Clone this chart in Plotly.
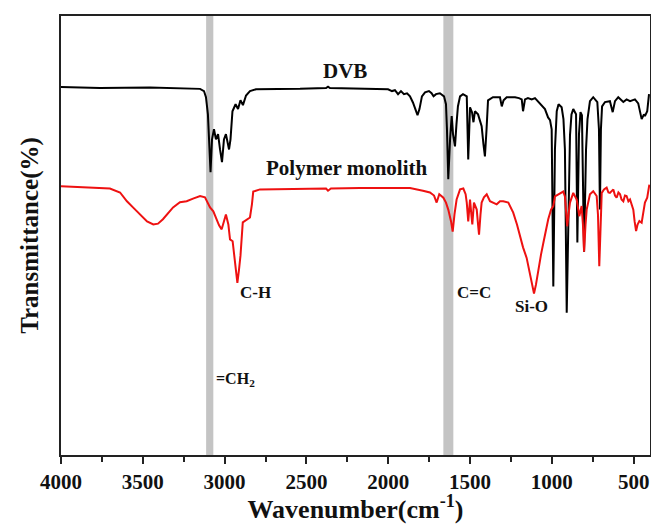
import plotly.graph_objects as go

# ---- data (wavenumber cm-1, transmittance a.u.) ----
dvb_wn = [4000, 3762, 3456, 3150, 3126, 3114, 3102, 3092, 3086, 3077, 3065, 3053, 3040, 3028,
          3016, 3004, 2992, 2973, 2964, 2952, 2933, 2918, 2903, 2888, 2869, 2845, 2808, 2539,
          2380, 2368, 2356, 2001, 1977, 1959, 1940, 1922, 1904, 1885, 1867, 1849, 1833, 1821,
          1809, 1794, 1775, 1751, 1735, 1723, 1708, 1684, 1659, 1647, 1641, 1633, 1622, 1612,
          1604, 1592, 1583, 1574, 1561, 1543, 1520, 1511, 1500, 1488, 1479, 1470, 1451, 1429,
          1418, 1409, 1399, 1390, 1360, 1317, 1306, 1295, 1276, 1225, 1201, 1184, 1176, 1164,
          1146, 1123, 1103, 1085, 1066, 1042, 1023, 1011, 1001, 991, 981, 970, 959, 940, 929,
          920, 909, 898, 889, 880, 869, 852, 844, 834, 825, 816, 803, 791, 782, 767, 747, 722,
          712, 706, 700, 693, 675, 645, 628, 614, 594, 563, 543, 522, 492, 472, 461, 451, 437,
          431, 417, 406]
dvb_t = [83.8, 83.6, 83.7, 83.4, 82.9, 81.5, 77.6, 69.6, 64.4, 71.9, 74.2, 71.9, 73.1, 69.6,
         66.7, 71.9, 73.1, 69.6, 71.9, 78.3, 79.9, 78.8, 80.8, 79.7, 81.9, 82.9, 83.3, 83.4,
         83.6, 83.9, 83.6, 83.3, 82.9, 83.1, 82.2, 82.9, 82.2, 82.4, 81.7, 80.3, 78.3, 77.4,
         78.8, 81.7, 82.6, 82.9, 82.4, 81.7, 82.2, 82.4, 81.7, 79.9, 74.2, 62.8, 71.9, 77.2,
         73.1, 70.3, 75.3, 79.4, 81.7, 82.2, 81.7, 67.3, 79.2, 78.1, 75.8, 78.3, 77.6, 74.9,
         70.8, 68.0, 74.2, 80.8, 81.5, 81.5, 79.4, 80.8, 81.5, 81.5, 81.3, 81.0, 78.3, 81.0,
         81.3, 81.0, 81.3, 80.6, 79.7, 78.8, 76.9, 76.3, 74.2, 38.4, 69.6, 78.3, 79.9, 79.2, 76.5,
         69.6, 32.4, 58.2, 72.8, 77.6, 78.8, 77.6, 48.4, 73.1, 78.1, 77.4, 46.3, 69.6, 76.5, 80.6,
         81.5, 80.4, 74.2, 55.9, 74.2, 79.4, 80.4, 80.6, 78.1, 80.6, 81.5, 80.4, 81.0, 80.6, 81.0,
         80.1, 78.3, 76.5, 77.6, 77.2, 78.3, 82.2]

poly_wn = [4000, 3853, 3701, 3639, 3597, 3560, 3517, 3474, 3436, 3407, 3377, 3346, 3315, 3273,
           3232, 3193, 3150, 3120, 3102, 3089, 3069, 3048, 3034, 3018, 3004, 2992, 2977, 2967,
           2951, 2937, 2922, 2912, 2903, 2889, 2865, 2845, 2833, 2825, 2784, 2539, 2380, 2368,
           2350, 2173, 1928, 1867, 1788, 1745, 1720, 1704, 1688, 1663, 1647, 1633, 1616, 1606,
           1595, 1582, 1561, 1541, 1527, 1520, 1511, 1500, 1492, 1486, 1476, 1459, 1451, 1445,
           1436, 1429, 1415, 1398, 1378, 1360, 1337, 1317, 1297, 1266, 1250, 1236, 1213, 1195,
           1176, 1154, 1134, 1121, 1109, 1097, 1083, 1066, 1052, 1036, 1022, 1005, 991, 981, 960,
           950, 930, 920, 906, 898, 889, 869, 848, 832, 818, 810, 803, 794, 787, 767, 747, 726,
           718, 710, 703, 695, 681, 665, 654, 645, 624, 614, 604, 593, 583, 574, 563, 553, 543,
           532, 522, 513, 502, 494, 485, 476, 465, 451, 440, 431, 417, 404]
poly_t = [61.2, 61.0, 60.7, 59.8, 57.8, 56.4, 54.8, 53.2, 52.5, 52.7, 53.7, 55.0, 56.4, 57.6,
          57.8, 58.4, 59.0, 58.7, 57.3, 56.4, 55.5, 53.3, 52.3, 51.4, 53.2, 54.8, 52.5, 49.1,
          48.7, 44.1, 39.2, 42.2, 45.4, 53.0, 53.7, 54.1, 57.1, 60.0, 60.5, 60.7, 60.7, 60.2,
          60.7, 60.8, 60.8, 60.8, 60.2, 59.8, 59.1, 57.5, 59.4, 58.6, 57.5, 55.9, 53.2, 50.9,
          54.8, 58.2, 60.5, 60.7, 59.4, 57.5, 53.2, 58.2, 54.8, 52.5, 57.5, 55.9, 52.5, 50.2,
          54.8, 57.5, 58.7, 59.4, 57.8, 57.5, 57.1, 57.8, 57.8, 57.5, 56.4, 55.2, 52.5, 49.8,
          47.3, 44.9, 41.5, 38.8, 36.8, 38.8, 42.2, 45.7, 48.3, 51.4, 53.7, 55.9, 56.7, 58.9, 59.4,
          59.7, 60.0, 58.9, 52.1, 54.8, 57.5, 59.7, 58.2, 54.4, 56.7, 52.5, 46.3, 52.5, 55.9, 59.4,
          60.1, 59.0, 54.8, 43.0, 51.4, 59.7, 60.5, 60.9, 59.8, 59.7, 60.5, 59.1, 58.6, 59.8, 59.4,
          58.2, 57.8, 59.1, 59.0, 57.8, 58.2, 57.3, 55.9, 53.2, 51.0, 52.5, 53.3, 52.9, 55.5, 57.5,
          58.6, 61.6]

bands = [(3113, 3069), (1663, 1602)]
tick_vals = [4000, 3500, 3000, 2500, 2000, 1500, 1000, 500]
tick_text = ["4000", "3500", "3000", "2500", "2000", "1500", "1000", "500"]

labels = [  # text, wavenumber, transmittance, anchor, size
    ("<b>DVB</b>", 2264, 87.4, "center", 21),
    ("<b>Polymer monolith</b>", 2252, 65.3, "center", 21),
    ("<b>C-H</b>", 2918, 37.0, "left", 17),
    ("<b>C=C</b>", 1592, 37.0, "left", 17),
    ("<b>Si-O</b>", 1237, 33.8, "left", 17),
    ("<b>=CH<sub>2</sub></b>", 3065, 17.1, "left", 16),
]

SERIF = "Liberation Serif"

fig = go.Figure()
for b0, b1 in bands:
    fig.add_vrect(x0=b0, x1=b1, fillcolor="#c4c4c4", line_width=0, layer="below")

fig.add_trace(go.Scatter(x=dvb_wn, y=dvb_t, mode="lines", name="DVB",
                         line=dict(color="black", width=2)))
fig.add_trace(go.Scatter(x=poly_wn, y=poly_t, mode="lines", name="Polymer monolith",
                         line=dict(color="#ee1111", width=2)))

for txt, xv, yv, anc, sz in labels:
    fig.add_annotation(x=xv, y=yv, text=txt, showarrow=False, xanchor=anc, yanchor="middle",
                       font=dict(family=SERIF, size=sz, color="#111111"))

fig.update_layout(
    width=651, height=524,
    margin=dict(l=61, r=1, t=16, b=69),
    paper_bgcolor="white", plot_bgcolor="white",
    showlegend=False,
    font=dict(family=SERIF, color="#111111"),
)
fig.update_xaxes(
    range=[4000, 400], tickvals=tick_vals, ticktext=tick_text,
    ticks="outside", ticklen=7, tickwidth=1.5, tickcolor="#222",
    minor=dict(dtick=250, ticks="outside", ticklen=5, tickwidth=1.5, tickcolor="#222"),
    showline=True, linecolor="#222", linewidth=1.5, mirror=True,
    showgrid=False, zeroline=False, automargin=False,
    tickfont=dict(family=SERIF, size=21, weight="bold", color="#111111"),
    title=dict(text="Wavenumber(cm<sup>-1</sup>)", standoff=2,
               font=dict(family=SERIF, size=26, weight="bold", color="#111111")),
)
fig.update_yaxes(
    range=[0, 100], showticklabels=False, ticks="",
    showline=True, linecolor="#222", linewidth=1.5, mirror=True,
    showgrid=False, zeroline=False, automargin=False,
    title=dict(text="Transmittance(%)", standoff=14,
               font=dict(family=SERIF, size=25, weight="bold", color="#111111")),
)

fig.write_html("out.html", config={"displayModeBar": False},
               post_script="document.body.style.margin='0';document.body.style.overflow='hidden';")
